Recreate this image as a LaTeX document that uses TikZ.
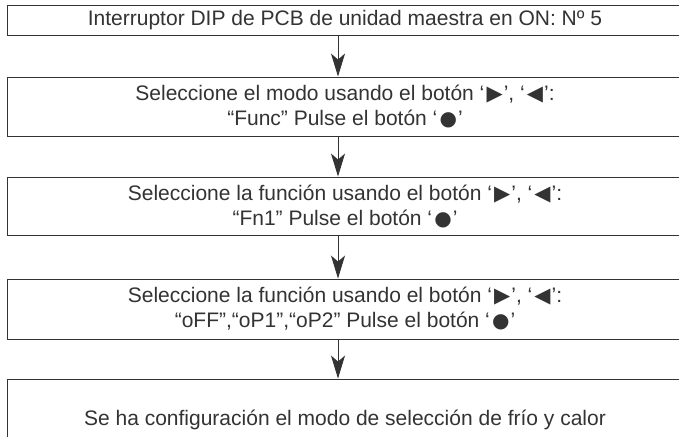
\documentclass[tikz,border=0pt]{standalone}
\usepackage{fontspec}
\setmainfont{Liberation Sans}
\newfontfamily\symfont{DejaVu Sans}
\usetikzlibrary{arrows.meta}
\definecolor{ink}{HTML}{333333}
\newcommand{\symbox}[2]{\hspace{0.1em}{\symfont\fontsize{#1}{#1}\selectfont #2}\hspace{0.05em}}
\newcommand{\rtri}{\symbox{21}{▶}}
\newcommand{\ltri}{\symbox{21}{◀}}
\newcommand{\bdotsym}{\symbox{20}{●}}
\begin{document}
\begin{tikzpicture}[x=1pt,y=-1pt,
  box/.style={draw=ink, line width=0.9pt, minimum width=676pt, inner sep=0pt,
    text=ink, font=\fontsize{21}{25}\selectfont, align=center},
  flow/.style={draw=ink, line width=0.9pt, -{Stealth[length=23pt,width=14pt,inset=6pt]}}]
\useasboundingbox (0,0) rectangle (679,436);
\fill[white] (0,0) rectangle (679,436);
\clip (0,0) rectangle (679,436);
\coordinate (ax) at (338,0);
\node[box, minimum height=30pt] (b1) at (345,20) {Interruptor DIP de PCB de unidad maestra en ON: Nº 5};
\node[box, minimum height=59pt] (b2) at (345,106.5) {Seleccione el modo usando el botón ‘\rtri’, ‘\ltri’:\\“Func” Pulse el botón ‘\bdotsym’};
\node[box, minimum height=58pt] (b3) at (345,206) {Seleccione la función usando el botón ‘\rtri’, ‘\ltri’:\\“Fn1” Pulse el botón ‘\bdotsym’};
\node[box, minimum height=60pt] (b4) at (345,309) {Seleccione la función usando el botón ‘\rtri’, ‘\ltri’:\\“oFF”,“oP1”,“oP2” Pulse el botón ‘\bdotsym’};
\node[box, minimum height=81pt] (b5) at (345,419.5) {Se ha configuración el modo de selección de frío y calor};
\draw[flow] (b1.south -| ax) -- (b2.north -| ax);
\draw[flow] (b2.south -| ax) -- (b3.north -| ax);
\draw[flow] (b3.south -| ax) -- (b4.north -| ax);
\draw[flow] (b4.south -| ax) -- (b5.north -| ax);
\end{tikzpicture}
\end{document}
